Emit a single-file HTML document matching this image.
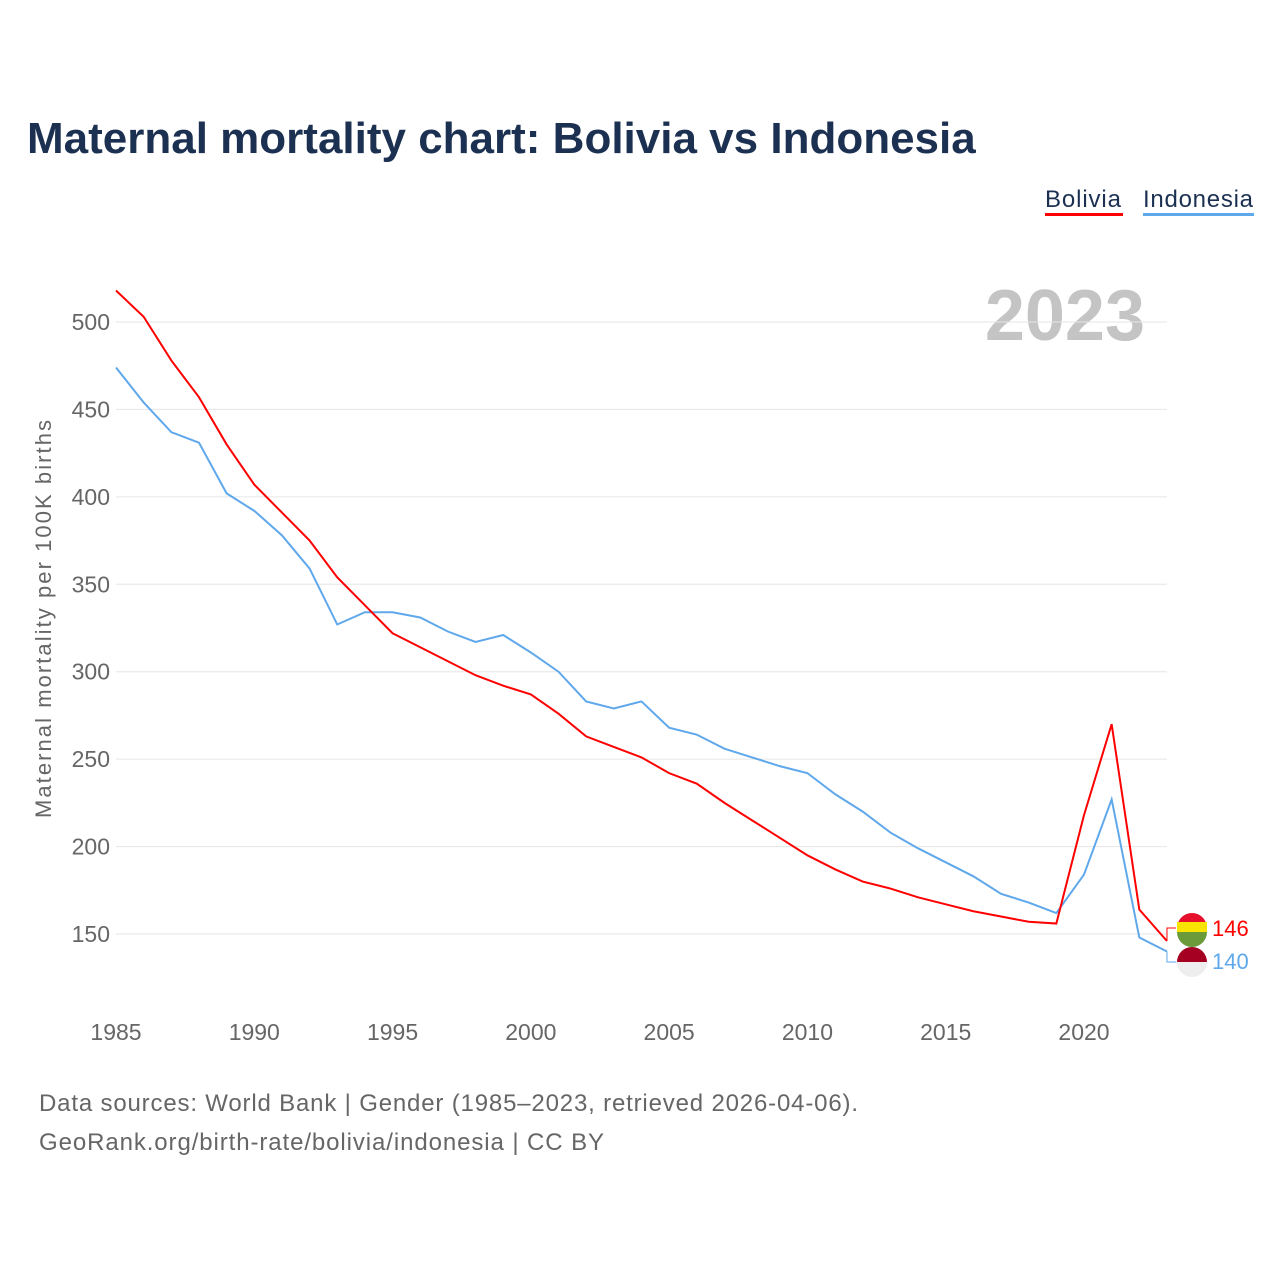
<!DOCTYPE html>
<html><head><meta charset="utf-8"><style>
body{margin:0;background:#fff;font-family:"Liberation Sans",sans-serif}
</style></head><body>
<svg id="c" width="1280" height="1280" xmlns="http://www.w3.org/2000/svg">
<text x="27" y="153" font-size="44" font-weight="bold" fill="#1c3152">Maternal mortality chart: Bolivia vs Indonesia</text>
<g><text x="1045" y="207" font-size="24" fill="#1c3152" textLength="76">Bolivia</text><rect x="1045" y="213" width="78" height="3" fill="#ff0000"/></g>
<g><text x="1143" y="207" font-size="24" fill="#1c3152" textLength="110">Indonesia</text><rect x="1143" y="213" width="111" height="3" fill="#5fa8eb"/></g>
<text x="1145" y="340" font-size="72" font-weight="bold" fill="#c4c4c4" text-anchor="end">2023</text>
<text transform="translate(51,619) rotate(-90)" font-size="22" fill="#666" text-anchor="middle" textLength="398">Maternal mortality per 100K births</text>
<g id="grid"></g><g id="xt"></g><g id="lines"></g>
<text x="39" y="1111" font-size="24" fill="#666" textLength="819">Data sources: World Bank | Gender (1985–2023, retrieved 2026-04-06).</text>
<text x="39" y="1150" font-size="24" fill="#666" textLength="565">GeoRank.org/birth-rate/bolivia/indonesia | CC BY</text>
</svg>
<script>
const years=[];for(let y=1985;y<=2023;y++)years.push(y);
const bolivia=[518,503,478,457,430,407,391,375,354,338,322,314,306,298,292,287,276,263,257,251,242,236,225,215,205,195,187,180,176,171,167,163,160,157,156,218,270,164,146];
const indonesia=[474,454,437,431,402,392,378,359,327,334,334,331,323,317,321,311,300,283,279,283,268,264,256,251,246,242,230,220,208,199,191,183,173,168,162,184,227,148,140];
const yTicks=[150,200,250,300,350,400,450,500];
const xTicks=[1985,1990,1995,2000,2005,2010,2015,2020];
const NS="http://www.w3.org/2000/svg";
const xs=y=>116+(y-1985)*27.657;
const ys=v=>322+(500-v)*1.7486;
function mk(t,a,p){const e=document.createElementNS(NS,t);for(const k in a)e.setAttribute(k,a[k]);p.appendChild(e);return e;}
const g=document.getElementById('grid');
yTicks.forEach(v=>{
const l=mk('line',{x1:116,x2:1167,y1:ys(v),y2:ys(v),stroke:'#e6e6e6','stroke-width':1},g);


const t=mk('text',{x:110,y:ys(v)+8,'font-size':23,fill:'#666','text-anchor':'end'},g);t.textContent=v;


});
const xt=document.getElementById('xt');
xTicks.forEach(v=>{
const t=mk('text',{x:xs(v),y:1040,'font-size':23,fill:'#666','text-anchor':'middle'},xt);t.textContent=v;


});
const L=document.getElementById('lines');
[[indonesia,'#5fa8eb','indonesia'],[bolivia,'#ff0000','bolivia']].forEach(([d,c,n])=>{
const p=mk('polyline',{points:d.map((v,i)=>xs(years[i])+','+ys(v)).join(' '),fill:'none',stroke:c,'stroke-width':2},L);


});
const lb=bolivia[bolivia.length-1],li=indonesia[indonesia.length-1],xe=xs(2023);
const bl=mk('g',{},L);


mk('polyline',{points:`${xe},${ys(lb)} ${xe},${928} ${1176},${928}`,fill:'none',stroke:'#ff0000','stroke-width':1},bl);
mk('path',{d:'M1177,928 a15,15 0 0 1 30,0 z',fill:'#e8112d'},bl);
mk('rect',{x:1177,y:922,width:30,height:10,fill:'#f9e300'},bl);
mk('path',{d:'M1177,932 h30 a15,15 0 0 1 -30,0 z',fill:'#6a9a3a'},bl);
const tb=mk('text',{x:1212,y:936,'font-size':22,fill:'#ff0000'},bl);tb.textContent=lb;
const il=mk('g',{},L);


mk('polyline',{points:`${xe},${ys(li)} ${xe},${962} ${1176},${962}`,fill:'none',stroke:'#5fa8eb','stroke-width':1},il);
mk('path',{d:'M1177,962 a15,15 0 0 1 30,0 z',fill:'#a50021'},il);
mk('path',{d:'M1177,962 h30 a15,15 0 0 1 -30,0 z',fill:'#eeeeee'},il);
const ti=mk('text',{x:1212,y:969,'font-size':22,fill:'#5fa8eb'},il);ti.textContent=li;
</script>
</body></html>
